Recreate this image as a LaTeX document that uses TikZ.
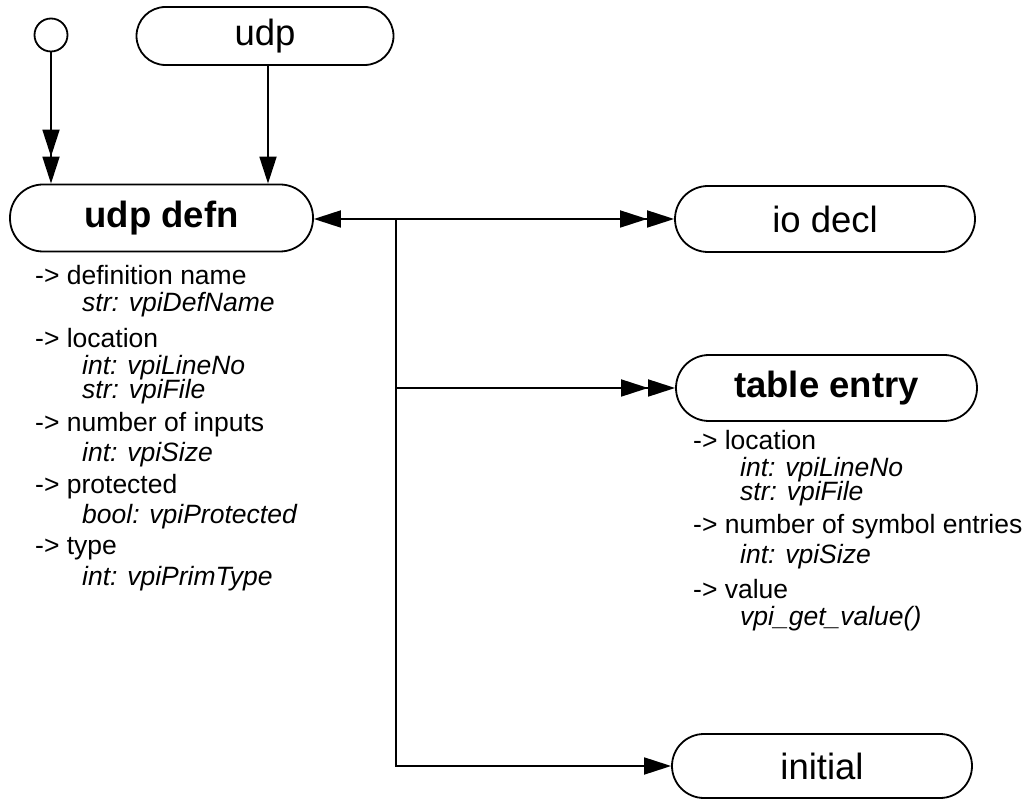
\documentclass[tikz,border=0pt]{standalone}
\usepackage{fontspec}
\setmainfont{Liberation Sans}
\usetikzlibrary{arrows.meta}
\tikzset{
  sgl/.style={-{Triangle[length=27pt,width=17pt]}},
  dbl/.style={-{Triangle[length=27pt,width=17pt]Triangle[length=27pt,width=17pt]}},
  sgldbl/.style={{Triangle[length=27pt,width=17pt]}-{Triangle[length=27pt,width=17pt]Triangle[length=27pt,width=17pt]}},
  box/.style={draw, line width=1.8pt, inner sep=0pt, rounded corners=33pt, minimum height=66pt},
  ttl/.style={font=\fontsize{36.5}{44}\selectfont},
  bttl/.style={font=\fontsize{36.5}{44}\selectfont\bfseries},
  conn/.style={line width=1.8pt},
  item/.style={anchor=west, inner sep=0pt, font=\fontsize{26.5}{32}\selectfont},
  attr/.style={anchor=west, inner sep=0pt, font=\fontsize{26.5}{32}\selectfont\itshape}
}
\begin{document}
\begin{tikzpicture}[x=1pt,y=-1pt]
\useasboundingbox (0,0) rectangle (1029,799);
\node[draw, circle, line width=1.8pt, minimum size=33pt, inner sep=0pt] (circ) at (51,35) {};
\node[box, ttl, minimum width=257pt, minimum height=58pt, rounded corners=29pt] (udp) at (265,36) {udp};
\node[box, bttl, minimum width=303pt, minimum height=67pt] (udpdefn) at (161.5,218) {udp defn};
\node[box, ttl, minimum width=300pt] (iodecl) at (825,219) {io decl};
\node[box, bttl, minimum width=301pt] (tableentry) at (826.5,388) {table entry};
\node[box, ttl, minimum width=300pt, minimum height=64pt, rounded corners=32pt] (initial) at (822,766) {initial};

\draw[conn, dbl] (circ.south) -- (circ.south |- udpdefn.north);
\draw[conn, sgl] ([xshift=3pt]udp.south) -- ([xshift=3pt]udp.south |- udpdefn.north);
\coordinate (J) at (396,219);
\draw[conn, sgldbl] (iodecl.west -| udpdefn.east) -- (iodecl.west);
\draw[conn, sgl] (J) |- (initial.west);
\draw[conn, dbl] (J |- tableentry.west) -- (tableentry.west);

\node[item] (a1) at (35,275) {-> definition name};
\node[attr] (a2) at (82,305) {str: vpiDefName};
\node[item] (a3) at (35,338) {-> location};
\node[attr] (a4) at (82,368) {int: vpiLineNo};
\node[attr] (a5) at (82,392) {str: vpiFile};
\node[item] (a6) at (35,425) {-> number of inputs};
\node[attr] (a7) at (82,455) {int: vpiSize};
\node[item] (a8) at (35,487) {-> protected};
\node[attr] (a9) at (82,517) {bool: vpiProtected};
\node[item] (a10) at (35,549) {-> type};
\node[attr] (a11) at (82,579) {int: vpiPrimType};

\node[item] (b1) at (693,440) {-> location};
\node[attr] (b2) at (740,470) {int: vpiLineNo};
\node[attr] (b3) at (740,494) {str: vpiFile};
\node[item] (b4) at (693,527) {-> number of symbol entries};
\node[attr] (b5) at (740,557) {int: vpiSize};
\node[item] (b6) at (693,589) {-> value};
\node[attr] (b7) at (740,619) {vpi\_get\_value()};
\end{tikzpicture}
\end{document}
